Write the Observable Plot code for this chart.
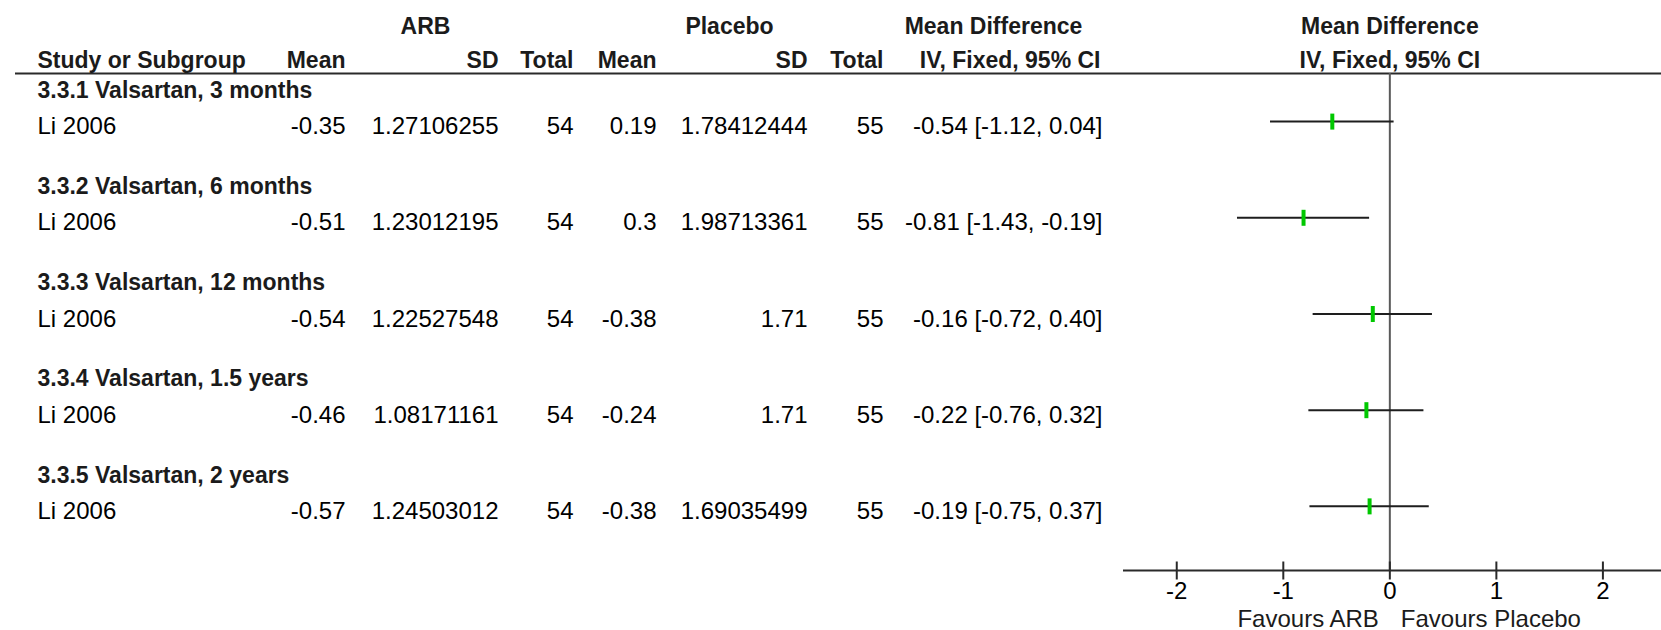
<!DOCTYPE html>
<html>
<head>
<meta charset="utf-8">
<script src="https://cdn.jsdelivr.net/npm/d3@7"></script>
<script src="https://cdn.jsdelivr.net/npm/@observablehq/plot@0.6"></script>
<style>
  html, body { margin: 0; padding: 0; background: #fff; }
  #chart svg { display: block; overflow: visible; }
</style>
</head>
<body>
<div id="chart"></div>
<script>
// ---- Data: ARB vs placebo, mean difference (IV, fixed, 95% CI) ----
const subgroups = [
  "3.3.1 Valsartan, 3 months",
  "3.3.2 Valsartan, 6 months",
  "3.3.3 Valsartan, 12 months",
  "3.3.4 Valsartan, 1.5 years",
  "3.3.5 Valsartan, 2 years"
];
const studies = ["Li 2006", "Li 2006", "Li 2006", "Li 2006", "Li 2006"];
const arbMean = [-0.35, -0.51, -0.54, -0.46, -0.57];
const arbSD = [1.27106255, 1.23012195, 1.22527548, 1.08171161, 1.24503012];
const arbTotal = [54, 54, 54, 54, 54];
const placeboMean = [0.19, 0.3, -0.38, -0.24, -0.38];
const placeboSD = [1.78412444, 1.98713361, 1.71, 1.71, 1.69035499];
const placeboTotal = [55, 55, 55, 55, 55];
const mdEst = [-0.54, -0.81, -0.16, -0.22, -0.19];
const mdLow = [-1.12, -1.43, -0.72, -0.76, -0.75];
const mdHigh = [0.04, -0.19, 0.40, 0.32, 0.37];
const xTicks = [-2, -1, 0, 1, 2];
const nullEffect = 0;
const groupHeaders = ["ARB", "Placebo", "Mean Difference"];
const columnHeaders = ["Study or Subgroup", "Mean", "SD", "Total", "Mean", "SD", "Total", "IV, Fixed, 95% CI"];
const forestHeaders = ["Mean Difference", "IV, Fixed, 95% CI"];
const favourLabels = ["Favours ARB", "Favours Placebo"];

// ---- Layout ----
const W = 1661, H = 630;
const M = {top: 73, right: 0, bottom: 60, left: 1123};
const yDomain = [-0.5, 15];            // table row index; each subgroup takes 3 rows
const leftText = 37;                   // left edge of the first column
const colRight = [345, 498, 573, 656, 807, 883, 1102];   // right edges of numeric columns
const groupCenter = [425, 729, 993];
const headerRight = [null, 345, 498, 573, 656, 807, 883, 1100];

const FONT = "'Liberation Sans', Arial, Helvetica, sans-serif";
const BOLD = {fontWeight: "bold", fontSize: 23, fill: "#1b1b1b"};
const REG = {fontSize: 24, fill: "#000"};

const rows = subgroups.map((name, i) => ({
  name,
  study: studies[i],
  head: 3 * i,
  row: 3 * i + 1,
  cells: [arbMean[i], arbSD[i], arbTotal[i], placeboMean[i], placeboSD[i], placeboTotal[i]].map(String)
    .concat(`${mdEst[i].toFixed(2)} [${mdLow[i].toFixed(2)}, ${mdHigh[i].toFixed(2)}]`),
  md: mdEst[i],
  lo: mdLow[i],
  hi: mdHigh[i]
}));

// vertical bar symbol (half-height = r)
const vbar = {
  draw(ctx, size) {
    const h = Math.sqrt(size / Math.PI);
    ctx.moveTo(0, -h);
    ctx.lineTo(0, h);
  }
};

const px = (x) => x - M.left;  // offset from the frame's left edge

const marks = [];

// header rule across the whole table
marks.push(Plot.ruleY([yDomain[0]], {stroke: "#2a2a2a", strokeWidth: 2, insetLeft: -(M.left - 15)}));

// group headers (top line)
groupHeaders.forEach((t, i) => {
  marks.push(Plot.text([t], {frameAnchor: "top-left", dx: px(groupCenter[i]), dy: -47,
    textAnchor: "middle", lineAnchor: "middle", ...BOLD}));
});
// column headers (second line)
columnHeaders.forEach((t, i) => {
  const right = headerRight[i];
  marks.push(Plot.text([t], {frameAnchor: "top-left",
    dx: right == null ? px(leftText) : px(right), dy: -13,
    textAnchor: right == null ? "start" : "end", lineAnchor: "middle", ...BOLD}));
});

// subgroup titles
marks.push(Plot.text(rows, {text: "name", y: "head", frameAnchor: "left", dx: px(leftText), dy: 1,
  textAnchor: "start", lineAnchor: "middle", ...BOLD}));
// study names
marks.push(Plot.text(rows, {text: "study", y: "row", frameAnchor: "left", dx: px(leftText), dy: 5,
  textAnchor: "start", lineAnchor: "middle", ...REG}));
// numeric cells
colRight.forEach((right, c) => {
  marks.push(Plot.text(rows, {text: (d) => d.cells[c], y: "row", frameAnchor: "left", dx: px(right), dy: 5,
    textAnchor: "end", lineAnchor: "middle", ...REG}));
});

// forest plot headers
forestHeaders.forEach((t, i) => {
  marks.push(Plot.text([t], {x: () => nullEffect, frameAnchor: "top", dy: i === 0 ? -47 : -13,
    textAnchor: "middle", lineAnchor: "middle", ...BOLD}));
});

// line of no effect
marks.push(Plot.ruleX([nullEffect], {stroke: "#5a5a5a", strokeWidth: 2}));

// confidence intervals and point estimates
marks.push(Plot.ruleY(rows, {y: "row", x1: "lo", x2: "hi", stroke: "#1e1e1e", strokeWidth: 2}));
marks.push(Plot.dot(rows, {x: "md", y: "row", symbol: vbar, r: 8, fill: "none", stroke: "#00c800", strokeWidth: 4}));

// x axis
marks.push(Plot.ruleY([yDomain[1]], {stroke: "#2a2a2a", strokeWidth: 2}));
marks.push(Plot.dot(xTicks, {x: (d) => d, frameAnchor: "bottom", symbol: vbar, r: 9, fill: "none", stroke: "#2a2a2a", strokeWidth: 2}));
marks.push(Plot.text(xTicks, {x: (d) => d, text: (d) => String(d), frameAnchor: "bottom", dy: 21,
  textAnchor: "middle", lineAnchor: "middle", ...REG}));
marks.push(Plot.text([favourLabels[0]], {x: () => nullEffect, frameAnchor: "bottom", dx: -11, dy: 49,
  textAnchor: "end", lineAnchor: "middle", ...REG, fill: "#1b1b1b"}));
marks.push(Plot.text([favourLabels[1]], {x: () => nullEffect, frameAnchor: "bottom", dx: 11, dy: 49,
  textAnchor: "start", lineAnchor: "middle", ...REG, fill: "#1b1b1b"}));

const chart = Plot.plot({
  width: W,
  height: H,
  marginTop: M.top,
  marginRight: M.right,
  marginBottom: M.bottom,
  marginLeft: M.left,
  style: {fontFamily: FONT, background: "#fff", overflow: "visible"},
  x: {domain: [-2.5, 2.55], axis: null},
  y: {domain: yDomain, reverse: true, axis: null},
  marks
});
document.getElementById("chart").appendChild(chart);
</script>
</body>
</html>
